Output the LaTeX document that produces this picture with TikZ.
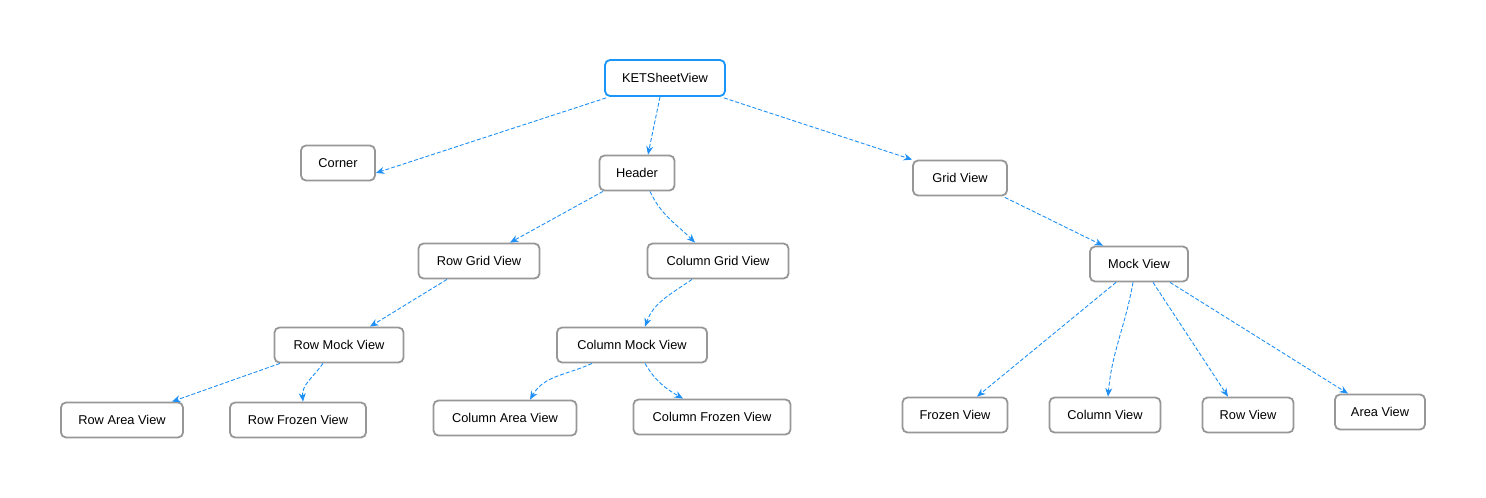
\documentclass[tikz,border=0pt]{standalone}
\usepackage{fontspec}
\setmainfont{Liberation Sans}
\usetikzlibrary{arrows.meta}
\definecolor{edgeblue}{HTML}{1E90F5}
\definecolor{rootblue}{HTML}{1A96FA}
\definecolor{boxgray}{HTML}{979797}
\tikzset{
  box/.style={draw=boxgray, line width=1.8pt, rounded corners=5pt, fill=white,
    minimum height=35pt, inner sep=0pt, font=\fontsize{12.8}{14}\selectfont},
  rootbox/.style={box, draw=rootblue},
  link/.style={draw=edgeblue, line width=0.9pt, dash pattern=on 4pt off 2pt,
    -{Stealth[length=8.5pt,width=7pt,fill=edgeblue]}}
}
\begin{document}
\begin{tikzpicture}[x=1pt,y=-1pt]
\useasboundingbox (0,0) rectangle (1486,498);
\node[rootbox, minimum width=120pt, minimum height=36pt] (ket) at (665,78) {KETSheetView};
\node[box, minimum width=74pt] (corner) at (338,163) {Corner};
\node[box, minimum width=75pt] (hdr) at (637,173) {Header};
\node[box, minimum width=94pt] (grid) at (960,178) {Grid View};
\node[box, minimum width=121pt] (rgv) at (479,261) {Row Grid View};
\node[box, minimum width=141pt] (cgv) at (718,261) {Column Grid View};
\node[box, minimum width=98pt] (mock) at (1139,264) {Mock View};
\node[box, minimum width=129pt] (rmv) at (339,345) {Row Mock View};
\node[box, minimum width=150pt] (cmv) at (632,345) {Column Mock View};
\node[box, minimum width=122pt] (rav) at (122,420) {Row Area View};
\node[box, minimum width=136pt] (rfv) at (298,420) {Row Frozen View};
\node[box, minimum width=143pt] (cav) at (505,418) {Column Area View};
\node[box, minimum width=157pt] (cfv) at (712,417) {Column Frozen View};
\node[box, minimum width=105pt] (fv) at (955,415) {Frozen View};
\node[box, minimum width=111pt] (cv) at (1105,415) {Column View};
\node[box, minimum width=91pt] (rv) at (1248,415) {Row View};
\node[box, minimum width=90pt] (av) at (1380,412) {Area View};

\path[link] ([xshift=2pt,yshift=-1pt]ket.south west) -- ([yshift=-10pt]corner.east);
\path[link] ([xshift=-5pt]ket.south) -- ([xshift=11pt]hdr.north);
\path[link] ([xshift=-2pt,yshift=-1pt]ket.south east) -- (grid.north west);
\path[link] ([xshift=-34pt]hdr.south) -- ([xshift=31pt]rgv.north);
\path[link] ([xshift=13pt]hdr.south) to[out=-65,in=135] ([xshift=-23pt]cgv.north);
\path[link] ([xshift=-3pt,yshift=-1pt]grid.south east) -- ([xshift=-36pt]mock.north);
\path[link] ([xshift=-32pt]rgv.south) -- ([xshift=31pt]rmv.north);
\path[link] ([xshift=-26pt]cgv.south) to[out=-145,in=70] ([xshift=13pt]cmv.north);
\path[link] ([xshift=-59pt]rmv.south) -- ([xshift=50pt]rav.north);
\path[link] ([xshift=-16pt]rmv.south) to[out=-125,in=95] ([xshift=5pt]rfv.north);
\path[link] ([xshift=-40pt]cmv.south) to[out=-155,in=60] ([xshift=25pt]cav.north);
\path[link] ([xshift=13pt]cmv.south) to[out=-60,in=150] ([xshift=-29pt]cfv.north);
\path[link] ([xshift=-23pt]mock.south) -- ([xshift=22pt]fv.north);
\path[link] ([xshift=-6pt]mock.south) to[out=-100,in=85] ([xshift=3pt]cv.north);
\path[link] ([xshift=14pt]mock.south) -- ([xshift=-20pt]rv.north);
\path[link] ([xshift=31pt]mock.south) -- ([xshift=-32pt]av.north);
\end{tikzpicture}
\end{document}
